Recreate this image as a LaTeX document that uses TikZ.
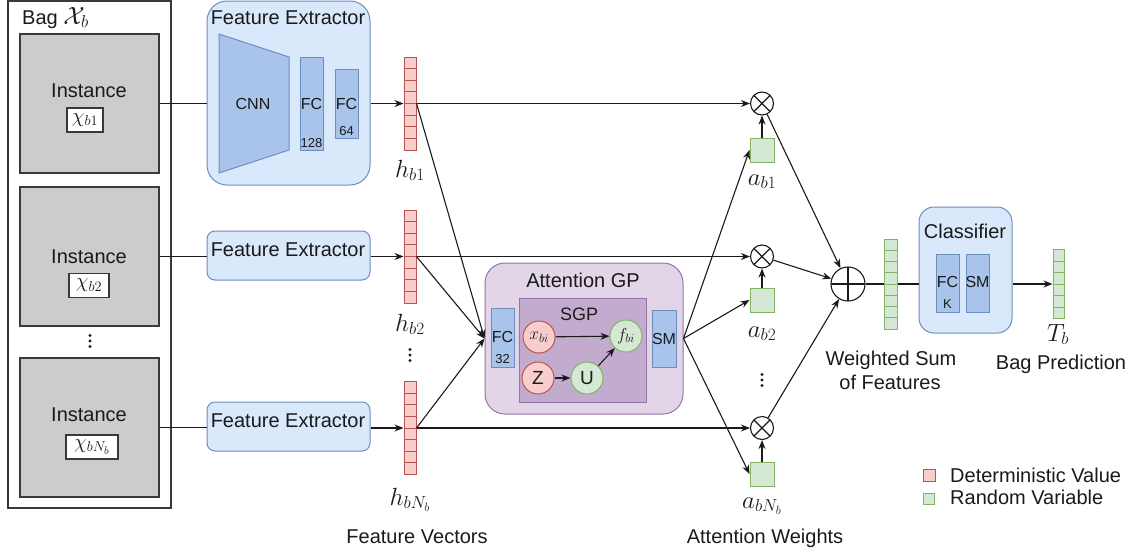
\documentclass[tikz,border=0pt]{standalone}
\usepackage[no-math]{fontspec}
\setmainfont{Liberation Sans}
\usetikzlibrary{arrows.meta,calc}

\definecolor{blueF}{HTML}{DAE8FC}
\definecolor{blueS}{HTML}{6C8EBF}
\definecolor{blueD}{HTML}{A9C4EB}
\definecolor{redF}{HTML}{F8CECC}
\definecolor{redS}{HTML}{B85450}
\definecolor{greenF}{HTML}{D5E8D4}
\definecolor{greenS}{HTML}{82B366}
\definecolor{purpF}{HTML}{E1D5E7}
\definecolor{purpS}{HTML}{9673A6}
\definecolor{purpD}{HTML}{C3ABD0}
\definecolor{grayF}{HTML}{CCCCCC}
\definecolor{grayS}{HTML}{36393D}
\definecolor{ink}{HTML}{1A1A1A}

\newcommand\fsz[1]{\fontsize{#1}{#1}\selectfont}

\tikzset{
  txt/.style={inner sep=0, text=ink, font=\fsz{20}},
  mlab/.style={inner sep=0, text=ink, font=\fsz{25}},
  rbox/.style={draw=#1S, fill=#1F, line width=1pt, inner sep=0},
  unit/.style={draw=blueS, fill=blueD, line width=1pt, inner sep=0, text=ink, font=\fsz{16}},
  inst/.style={draw=grayS, fill=grayF, line width=1.1pt, inner sep=0},
  chip/.style={draw=grayS, fill=white, line width=1.1pt, inner sep=0, minimum height=24, text=ink, font=\fsz{21}},
  wire/.style={line width=1.1pt, draw=ink},
  arr/.style={wire, -{Stealth[length=9pt,width=7pt]}},
  vec/.style n args={3}{draw=#2, fill=#3, line width=1pt, inner sep=0,
    path picture={\foreach \k in {1,...,#1}{
      \draw[#2, line width=0.9pt]
        ($(path picture bounding box.north west)!{\k/#1}!(path picture bounding box.south west)$) --
        ($(path picture bounding box.north east)!{\k/#1}!(path picture bounding box.south east)$);}}},
  avar/.style={draw=greenS, fill=greenF, line width=1pt, inner sep=0, minimum size=24},
  dvc/.style={circle, draw=redS, fill=redF, line width=1pt, minimum size=32, inner sep=0, text=ink},
  rvc/.style={circle, draw=greenS, fill=greenF, line width=1pt, minimum size=32, inner sep=0, text=ink},
  otimes/.style={circle, draw=ink, fill=white, line width=1.1pt, minimum size=23, inner sep=0,
    path picture={\draw[ink, line width=1.1pt]
      (path picture bounding box.north west) -- (path picture bounding box.south east)
      (path picture bounding box.north east) -- (path picture bounding box.south west);}},
  oplus/.style={circle, draw=ink, fill=white, line width=1.1pt, minimum size=34, inner sep=0,
    path picture={\draw[ink, line width=1.1pt]
      (path picture bounding box.north) -- (path picture bounding box.south)
      (path picture bounding box.west) -- (path picture bounding box.east);}},
  vdotsn/.style={minimum width=5, minimum height=16, inner sep=0,
    path picture={\fill[ink] (path picture bounding box.center) circle (1.7)
      ++(0,5.5) circle (1.7) ++(0,-11) circle (1.7);}},
}

\begin{document}
\begin{tikzpicture}[x=1pt, y=-1pt]
\useasboundingbox (0,0) rectangle (1135,552);

% ---- bag of instances ----
\node[draw=grayS, line width=1.1pt, minimum width=163, minimum height=507, inner sep=0] (bag) at (89.5,254.5) {};
\node[txt, anchor=base west] (bagt) at (22,24) {Bag {\fsz{25}$\mathcal{X}_b$}};

\node[inst, minimum width=139, minimum height=139] (in1) at (89.5,103.5) {};
\node[txt, anchor=base] (in1t) at (89,97) {Instance};
\node[chip, minimum width=36] (x1) at (85,120) {$\chi_{b1}$};

\node[inst, minimum width=139, minimum height=139] (in2) at (89.5,256.5) {};
\node[txt, anchor=base] (in2t) at (89,263) {Instance};
\node[chip, minimum width=40] (x2) at (89,285.5) {$\chi_{b2}$};

\node[vdotsn] (d1) at (90,341) {};

\node[inst, minimum width=139, minimum height=139] (inN) at (89.5,427.5) {};
\node[txt, anchor=base] (inNt) at (89,421) {Instance};
\node[chip, minimum width=52] (xN) at (92,447) {$\chi_{bN_b}$};

% ---- feature extractors ----
\node[rbox=blue, rounded corners=20, minimum width=163, minimum height=184] (fe1) at (288.5,93) {};
\node[txt, anchor=base] (fe1t) at (288,24) {Feature Extractor};
\draw[draw=blueS, fill=blueD, line width=1pt] (219,34) -- (289,57) -- (289,150) -- (219,173) -- cycle;
\node[txt, font=\fsz{16}, anchor=base] (cnnt) at (253,109) {CNN};
\node[unit, minimum width=23, minimum height=93] (fc1) at (311.5,103.5) {};
\node[txt, font=\fsz{16}, anchor=base] (fc1t) at (311.5,109) {FC};
\node[txt, font=\fsz{13}, anchor=base] (fc1n) at (311.5,147) {128};
\node[unit, minimum width=23, minimum height=69] (fc2) at (346.5,103.5) {};
\node[txt, font=\fsz{16}, anchor=base] (fc2t) at (346.5,109) {FC};
\node[txt, font=\fsz{13}, anchor=base] (fc2n) at (346.5,135) {64};

\node[rbox=blue, rounded corners=8, minimum width=163, minimum height=49] (fe2) at (288.5,255.5) {};
\node[txt, anchor=base] (fe2t) at (288,256) {Feature Extractor};
\node[rbox=blue, rounded corners=8, minimum width=163, minimum height=49] (feN) at (288.5,426.5) {};
\node[txt, anchor=base] (feNt) at (288,427) {Feature Extractor};

% ---- feature vectors ----
\node[vec={8}{redS}{redF}, minimum width=12, minimum height=93] (h1) at (410,103.5) {};
\node[vec={8}{redS}{redF}, minimum width=12, minimum height=93] (h2) at (410,256.5) {};
\node[vec={8}{redS}{redF}, minimum width=12, minimum height=93] (hN) at (410,428) {};
\node[mlab, anchor=base] (h1l) at (410,177) {$h_{b1}$};
\node[mlab, anchor=base] (h2l) at (410,331) {$h_{b2}$};
\node[vdotsn] (d2) at (410,355) {};
\node[mlab, anchor=base] (hNl) at (410,505) {$h_{bN_b}$};
\node[txt, anchor=base] (fvl) at (417,543) {Feature Vectors};

% ---- attention GP ----
\node[rbox=purp, rounded corners=20, minimum width=198, minimum height=151] (gp) at (584,338.5) {};
\node[txt, anchor=base] (gpt) at (583,287) {Attention GP};
\node[draw=purpS, fill=purpD, line width=1pt, minimum width=127, minimum height=104, inner sep=0] (sgp) at (582.5,350) {};
\node[txt, font=\fsz{18}, anchor=base] (sgpt) at (579,320) {SGP};
\node[unit, minimum width=23, minimum height=59] (fc3) at (502.5,337.5) {};
\node[txt, font=\fsz{16}, anchor=base] (fc3t) at (502.5,342) {FC};
\node[txt, font=\fsz{13}, anchor=base] (fc3n) at (502.5,363) {32};
\node[unit, minimum width=24, minimum height=57] (sm1) at (664,338.5) {SM};
\node[dvc, font=\fsz{17}] (xb) at (539,337) {$x_{bi}$};
\node[rvc, font=\fsz{17}] (fb) at (626,336) {$f_{bi}$};
\node[dvc, font=\fsz{19}] (zn) at (538,378) {Z};
\node[rvc, font=\fsz{19}] (un) at (587,378) {U};
\draw[arr] (xb) -- (fb);
\draw[arr] (zn) -- (un);
\draw[arr] (un) -- (fb);

% ---- attention weights and products ----
\node[avar] (a1) at (762,150) {};
\node[avar] (a2) at (762,300) {};
\node[avar] (aN) at (762,474) {};
\node[otimes] (m1) at (762,103.5) {};
\node[otimes] (m2) at (762,256.5) {};
\node[otimes] (mN) at (762,428) {};
\node[mlab, anchor=base] (a1l) at (762,185) {$a_{b1}$};
\node[mlab, anchor=base] (a2l) at (762,337) {$a_{b2}$};
\node[vdotsn] (d3) at (762,380) {};
\node[mlab, anchor=base] (aNl) at (762,508) {$a_{bN_b}$};
\node[txt, anchor=base] (awl) at (765,543) {Attention Weights};

% ---- aggregation and classifier ----
\node[oplus] (plus) at (848,284) {};
\node[vec={8}{greenS}{greenF}, minimum width=13, minimum height=90] (ws) at (890.5,284) {};
\node[txt, anchor=base] (wsl1) at (891,365) {Weighted Sum};
\node[txt, anchor=base] (wsl2) at (890,389) {of Features};
\node[rbox=blue, rounded corners=15, minimum width=93, minimum height=126] (cls) at (965.5,270) {};
\node[txt, anchor=base] (clst) at (965,238) {Classifier};
\node[unit, minimum width=23, minimum height=58] (fck) at (947.5,283) {};
\node[txt, font=\fsz{16}, anchor=base] (fckt) at (947.5,287) {FC};
\node[txt, font=\fsz{13}, anchor=base] (fckn) at (947.5,308) {K};
\node[unit, minimum width=23, minimum height=58] (smk) at (977.5,283) {};
\node[txt, font=\fsz{16}, anchor=base] (smkt) at (977.5,287) {SM};
\node[vec={6}{greenS}{greenF}, minimum width=11, minimum height=69] (tb) at (1058.5,284) {};
\node[mlab, font=\fsz{26}, anchor=base] (tbl) at (1058,341) {$T_b$};
\node[txt, anchor=base] (bpl) at (1061,369) {Bag Prediction};

% ---- legend ----
\node[draw=redS, fill=redF, line width=1pt, minimum size=12, inner sep=0] (lgr) at (929,475) {};
\node[draw=greenS, fill=greenF, line width=1pt, minimum size=11, inner sep=0] (lgg) at (929,498.5) {};
\node[txt, anchor=base west] (lgrt) at (950,482) {Deterministic Value};
\node[txt, anchor=base west] (lggt) at (950,504) {Random Variable};

% ---- connectors ----
\draw[wire] (in1.east) -- (in1.east -| fe1.west);
\draw[wire] (in2.east) -- (in2.east -| fe2.west);
\draw[wire] (inN.east) -- (inN.east -| feN.west);
\draw[arr] (fe1.east |- h1.west) -- (h1.west);
\draw[arr] (fe2.east |- h2.west) -- (h2.west);
\draw[arr] (feN.east |- hN.west) -- (hN.west);

\draw[arr] (h1.east) -- (m1.west);
\draw[arr] (h2.east) -- (m2.west);
\draw[arr] (hN.east) -- (mN.west);
\draw[arr] (h1.east) -- (gp.west);
\draw[arr] (h2.east) -- (gp.west);
\draw[arr] (hN.east) -- (gp.west);

\draw[arr] (gp.east) -- (a1.west);
\draw[arr] (gp.east) -- (a2.west);
\draw[arr] (gp.east) -- (aN.west);
\draw[arr] (a1) -- (m1);
\draw[arr] (a2) -- (m2);
\draw[arr] (aN) -- (mN);

\draw[arr] (m1) -- (plus);
\draw[arr] (m2) -- (plus);
\draw[arr] (mN) -- (plus);
\draw[wire] (plus.east) -- (ws.west);
\draw[wire] (ws.east) -- (ws.east -| cls.west);
\draw[arr] (cls.east |- tb.west) -- (tb.west);
\end{tikzpicture}
\end{document}
